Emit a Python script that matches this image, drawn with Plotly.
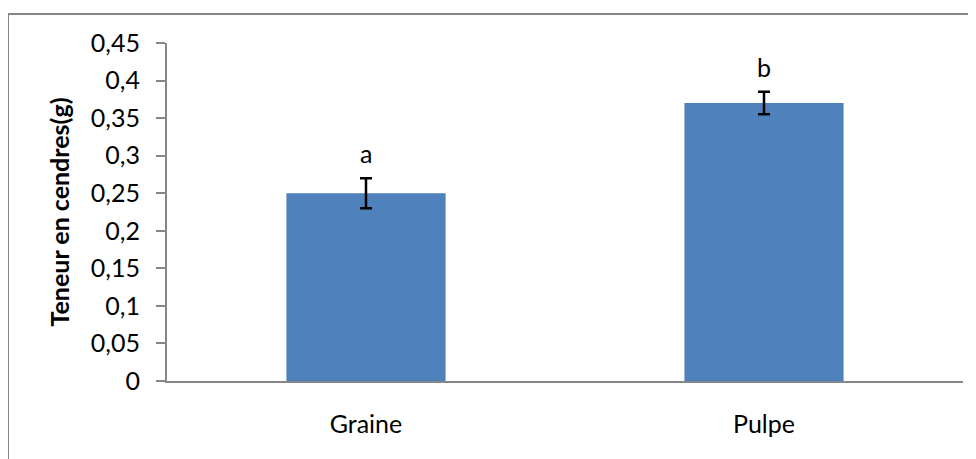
import plotly.graph_objects as go

categories = ["Graine", "Pulpe"]
values = [0.25, 0.37]
errors = [0.02, 0.015]
letters = ["a", "b"]
y_tickvals = [0, 0.05, 0.1, 0.15, 0.2, 0.25, 0.3, 0.35, 0.4, 0.45]
y_ticktext = ["0", "0,05", "0,1", "0,15", "0,2", "0,25", "0,3", "0,35", "0,4", "0,45"]
y_title = "Teneur en cendres(g)"

FONT = "Lato"
GRAY = "#868686"

fig = go.Figure()
fig.add_trace(go.Bar(
    x=categories, y=values,
    marker=dict(color="#4F81BD", line=dict(width=0)),
    error_y=dict(type="data", array=errors, visible=True, color="black", thickness=2.5, width=6),
    width=0.4,
))

for c, v, e, t in zip(categories, values, errors, letters):
    fig.add_annotation(x=c, y=v + e, text=t, showarrow=False, yanchor="bottom", yshift=8,
                       font=dict(family=FONT, size=25, color="black"))

fig.add_shape(type="rect", xref="paper", yref="paper", x0=-0.1997, x1=1.2, y0=-0.6, y1=1.0858,
              line=dict(color=GRAY, width=2), fillcolor="rgba(0,0,0,0)", layer="above")

fig.update_layout(
    width=976, height=459,
    margin=dict(l=159, r=21, t=35, b=86, autoexpand=False),
    paper_bgcolor="white", plot_bgcolor="white",
    showlegend=False,
    font=dict(family=FONT, size=25, color="black"),
    bargap=0.6,
)
fig.update_xaxes(
    showline=True, linecolor=GRAY, linewidth=2, ticks="", showgrid=False,
    tickfont=dict(family=FONT, size=25, color="black"), ticklabelstandoff=20,
)
fig.update_yaxes(
    range=[0, 0.45], tickvals=y_tickvals, ticktext=y_ticktext,
    showline=True, linecolor=GRAY, linewidth=2, ticks="outside", ticklen=9, tickwidth=2, tickcolor=GRAY,
    showgrid=False, zeroline=False,
    tickfont=dict(family=FONT, size=25, color="black"), ticklabelstandoff=11,
    title=dict(text=y_title, font=dict(family=FONT, size=25, color="black", weight="bold"), standoff=14),
)

fig.write_html("out.html")
